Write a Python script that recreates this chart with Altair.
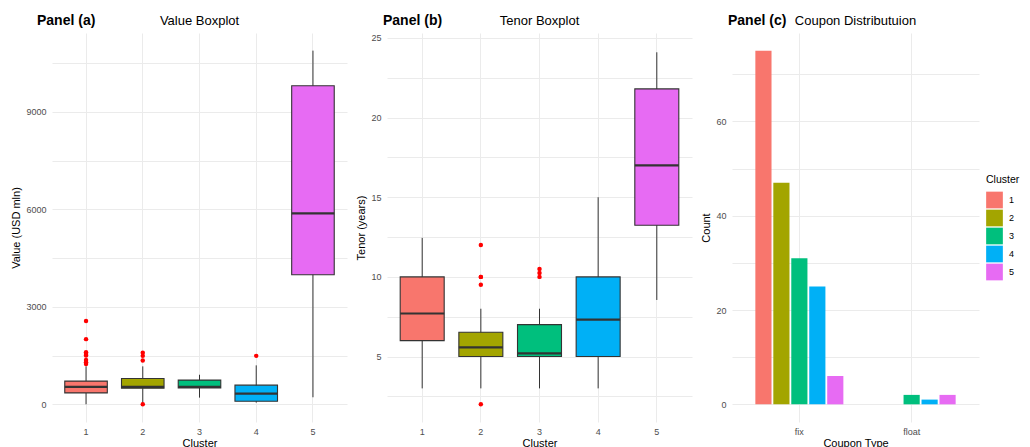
import altair as alt
import pandas as pd

clusters = ["1", "2", "3", "4", "5"]
colors = ["#F8766D", "#A3A500", "#00BF7D", "#00B0F6", "#E76BF3"]

# Panel (a): Value (USD mln) box summaries per cluster
val_lo = [0, 40, 205, 50, 216]
val_q1 = [351, 497, 506, 93, 3990]
val_med = [537, 537, 537, 330, 5876]
val_q3 = [714, 795, 745, 590, 9804]
val_hi = [1168, 1168, 910, 1199, 10887]
val_out_cluster = ["1", "1", "1", "1", "1", "1", "1", "1", "2", "2", "2", "2", "4"]
val_out = [2565, 2006, 1603, 1550, 1500, 1366, 1292, 1242, 1584, 1491, 1345, 0, 1491]

# Panel (b): Tenor (years) box summaries per cluster
ten_lo = [3, 3, 3, 3, 8.55]
ten_q1 = [6, 5, 5, 5, 13.24]
ten_med = [7.7, 5.58, 5.2, 7.32, 17.0]
ten_q3 = [10, 6.52, 7, 10, 21.8]
ten_hi = [12.45, 8, 8, 15, 24.1]
ten_out_cluster = ["2", "2", "2", "2", "2", "3", "3", "3"]
ten_out = [12, 10, 10, 9.5, 2, 10.5, 10.25, 10]

# Panel (c): coupon type counts per cluster
coupon_types = ["fix", "float"]
fix_counts = [75, 47, 31, 25, 6]
float_counts = [0, 0, 2, 1, 2]

FONT = "Liberation Sans"
H = 389


def box_panel(lo, q1, med, q3, hi, out_c, out_v, domain, grid_vals, major_step,
              ytitle, tag, title, width, tag_x):
    df = pd.DataFrame({"cluster": clusters, "lo": lo, "q1": q1, "med": med, "q3": q3, "hi": hi})
    odf = pd.DataFrame({"cluster": out_c, "v": out_v})
    step = width / 5.2
    bw = step * 0.75
    x = alt.X("cluster:N",
              scale=alt.Scale(domain=clusters, paddingInner=0.25, paddingOuter=0.225),
              axis=alt.Axis(title="Cluster", labelAngle=0, labelPadding=5, titlePadding=1,
                            grid=True, bandPosition=0.5))
    yaxis = alt.Axis(title=ytitle, values=grid_vals,
                     labelExpr=f"(abs(datum.value % {major_step}) < 1e-9) ? datum.label : ''",
                     labelPadding=6, titlePadding=4, format="d" if major_step >= 1000 else "")
    yscale = alt.Scale(domain=domain, nice=False, zero=False)
    base = alt.Chart(df)
    whisk = base.mark_rule(color="#333333", strokeWidth=1).encode(
        x=x, y=alt.Y("lo:Q", scale=yscale, axis=yaxis), y2="hi:Q")
    box = base.mark_bar(stroke="#333333", strokeWidth=1.1, opacity=1).encode(
        x=x, y=alt.Y("q1:Q"), y2="q3:Q",
        color=alt.Color("cluster:N", scale=alt.Scale(domain=clusters, range=colors), legend=None))
    medl = base.mark_tick(color="#333333", thickness=2.2, size=bw, opacity=1).encode(
        x=x, y=alt.Y("med:Q"))
    outs = alt.Chart(odf).mark_circle(color="#FF0000", size=20, opacity=1).encode(
        x=x, y=alt.Y("v:Q"))
    tag_t = alt.Chart(pd.DataFrame({"t": [tag]})).mark_text(
        font=FONT, fontSize=14, fontWeight="bold", align="left", baseline="middle", color="black"
    ).encode(text="t:N", x=alt.value(tag_x), y=alt.value(-12.5))
    title_t = alt.Chart(pd.DataFrame({"t": [title]})).mark_text(
        font=FONT, fontSize=13, align="center", baseline="middle", color="black"
    ).encode(text="t:N", x=alt.value(width / 2), y=alt.value(-12.5))
    return alt.layer(whisk, box, medl, outs, tag_t, title_t).properties(width=width, height=H)


panel_a = box_panel(val_lo, val_q1, val_med, val_q3, val_hi, val_out_cluster, val_out,
                    [-545, 11430], [0, 1500, 3000, 4500, 6000, 7500, 9000, 10500], 3000,
                    "Value (USD mln)", "Panel (a)", "Value Boxplot", 295, -15)
panel_b = box_panel(ten_lo, ten_q1, ten_med, ten_q3, ten_hi, ten_out_cluster, ten_out,
                    [0.89, 25.31], [2.5, 5, 7.5, 10, 12.5, 15, 17.5, 20, 22.5, 25], 5,
                    "Tenor (years)", "Panel (b)", "Tenor Boxplot", 305, -4)

# Panel (c)
cdf = pd.DataFrame({
    "coupon": ["fix"] * 5 + ["float"] * 5,
    "cluster": clusters + clusters,
    "count": fix_counts + float_counts,
})
WC = 247
bars = alt.Chart(cdf).mark_bar(opacity=1).encode(
    x=alt.X("coupon:N", scale=alt.Scale(domain=coupon_types, paddingInner=0.2, paddingOuter=0.2),
            axis=alt.Axis(title="Coupon Type", labelAngle=0, labelPadding=5, titlePadding=1,
                          grid=True, bandPosition=0.5)),
    xOffset=alt.XOffset("cluster:N", scale=alt.Scale(domain=clusters, paddingInner=0.1, paddingOuter=0.05)),
    y=alt.Y("count:Q", scale=alt.Scale(domain=[-3.75, 78.75], nice=False, zero=False),
            axis=alt.Axis(title="Count", values=[0, 10, 20, 30, 40, 50, 60, 70],
                          labelExpr="(datum.value % 20 == 0) ? datum.label : ''",
                          labelPadding=6, titlePadding=4)),
    color=alt.Color("cluster:N", scale=alt.Scale(domain=clusters, range=colors),
                    legend=alt.Legend(title="Cluster", orient="none", legendX=254, legendY=142,
                                      symbolType="square", symbolSize=279, symbolStrokeWidth=0,
                                      rowPadding=1, labelOffset=6, titlePadding=6,
                                      titleFontSize=10.5, titleFontWeight="normal", labelFontSize=9,
                                      titleFont=FONT, labelFont=FONT, titleColor="black",
                                      labelColor="black")),
)
tag_c = alt.Chart(pd.DataFrame({"t": ["Panel (c)"]})).mark_text(
    font=FONT, fontSize=14, fontWeight="bold", align="left", baseline="middle", color="black"
).encode(text="t:N", x=alt.value(-4), y=alt.value(-12.5))
title_c = alt.Chart(pd.DataFrame({"t": ["Coupon Distributuion"]})).mark_text(
    font=FONT, fontSize=13, align="center", baseline="middle", color="black"
).encode(text="t:N", x=alt.value(WC / 2), y=alt.value(-12.5))
panel_c = alt.layer(bars, tag_c, title_c).properties(width=WC, height=H)

chart = alt.hconcat(panel_a, panel_b, panel_c, spacing=40, bounds="flush").resolve_legend(
    color="independent"
).properties(
    autosize=alt.AutoSizeParams(type="none"),
    padding={"left": 44, "top": 25, "right": 970, "bottom": 406},
).configure_view(
    stroke=None
).configure_axis(
    labelFont=FONT, titleFont=FONT, labelFontSize=9, titleFontSize=11, labelColor="#4D4D4D",
    titleColor="black", titleFontWeight="normal", domain=False, ticks=False, tickSize=0,
    gridColor="#EBEBEB", gridWidth=1
)

chart.save("out.html", embed_options={"renderer": "svg", "actions": False})
